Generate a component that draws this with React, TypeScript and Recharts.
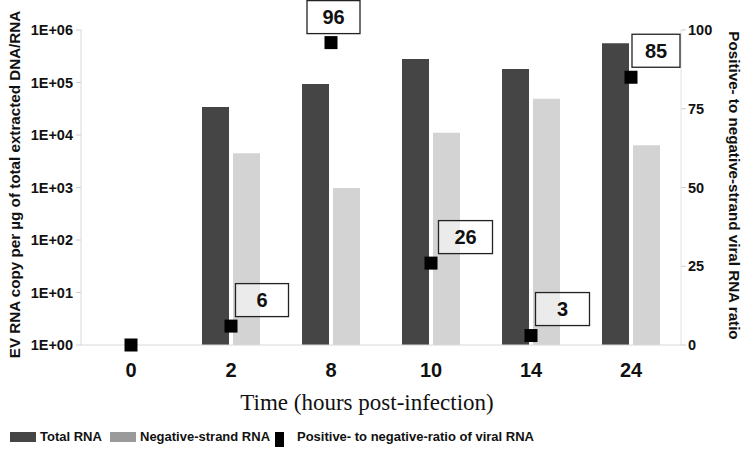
import React from "react";
import { ComposedChart, Bar, Line, XAxis, YAxis, Label } from "recharts";

const hours = ["0", "2", "8", "10", "14", "24"];
const totalRna = [null, 34000, 94000, 280000, 180000, 560000];
const negativeRna = [null, 4500, 980, 11000, 49000, 6400];
const ratio = [0, 6, 96, 26, 3, 85];
const ratioLabels = ["", "6", "96", "26", "3", "85"];

const logTicks = [1, 10, 100, 1000, 10000, 100000, 1000000];
const ratioTicks = [0, 25, 50, 75, 100];

// where each value box sits relative to its square: [dx, dy, width]
const boxPlacement: Array<[number, number, number]> = [
  [0, 0, 0],
  [31, -26, 53],
  [2.5, -25.5, 53],
  [34.5, -26, 54],
  [31.5, -26.5, 54],
  [25, -26.5, 48],
];

const chartData = hours.map((h, i) => ({
  hour: h,
  total: totalRna[i],
  negative: negativeRna[i],
  ratio: ratio[i],
}));

const ARIAL = "Arial, 'Liberation Sans', sans-serif";
const SERIF = "'Times New Roman', 'Liberation Serif', serif";
const DARK = "#454545";
const LIGHT = "#d3d3d3";

const fmtLog = (v: number) => "1E+" + String(Math.round(Math.log10(v))).padStart(2, "0");

function RatioDot(props: any) {
  const { cx, cy, index } = props;
  if (cx == null || cy == null) return null;
  const label = ratioLabels[index];
  const [dx, dy, w] = boxPlacement[index];
  const h = 33;
  return (
    <g key={"rd" + index}>
      <rect x={cx - 6.5} y={cy - 6.5} width={13} height={13} fill="#000" />
      {label && (
        <g>
          <rect
            x={cx + dx - w / 2}
            y={cy + dy - h / 2}
            width={w}
            height={h}
            fill="#fff"
            fillOpacity={0.55}
            stroke="#222"
            strokeWidth={1.3}
          />
          <text
            x={cx + dx}
            y={cy + dy + 7}
            textAnchor="middle"
            fontFamily={ARIAL}
            fontWeight="bold"
            fontSize={20}
            fill="#111"
          >
            {label}
          </text>
        </g>
      )}
    </g>
  );
}

const leftTitle = (props: any) => {
  const { viewBox } = props;
  const cx = 14;
  const cy = viewBox.y + viewBox.height / 2 - 3;
  return (
    <text
      x={cx}
      y={cy}
      transform={`rotate(-90 ${cx} ${cy})`}
      textAnchor="middle"
      dominantBaseline="central"
      fontFamily={ARIAL}
      fontWeight="bold"
      fontSize={15.2}
      fill="#111"
    >
      EV RNA copy per µg of total extracted DNA/RNA
    </text>
  );
};

const rightTitle = (props: any) => {
  const { viewBox } = props;
  const cx = 734;
  const cy = viewBox.y + viewBox.height / 2 - 2;
  return (
    <text
      x={cx}
      y={cy}
      transform={`rotate(90 ${cx} ${cy})`}
      textAnchor="middle"
      dominantBaseline="central"
      fontFamily={ARIAL}
      fontWeight="bold"
      fontSize={15.2}
      fill="#111"
    >
      Positive- to negative-strand viral RNA ratio
    </text>
  );
};

const legendText = {
  position: "absolute" as const,
  top: 429,
  fontFamily: ARIAL,
  fontWeight: "bold" as const,
  fontSize: 13,
  color: "#111",
  lineHeight: "16px",
};

export default function App() {
  return (
    <div style={{ position: "relative", width: 742, height: 460, background: "#fff" }}>
      <style>{"body{margin:0}"}</style>
      <ComposedChart
        width={742}
        height={460}
        data={chartData}
        margin={{ top: 30, right: 0, bottom: 0, left: 0 }}
        barSize={27}
        barGap={4}
      >
        <XAxis
          dataKey="hour"
          height={115}
          axisLine={{ stroke: "#d8d8d8" }}
          tickLine={false}
          tickMargin={12}
          tick={{ fill: "#111", fontFamily: ARIAL, fontWeight: "bold", fontSize: 20 }}
        >
          <Label
            value="Time (hours post-infection)"
            position="insideBottom"
            offset={50}
            dx={-14}
            style={{ fontFamily: SERIF, fontSize: 23, fill: "#111" }}
          />
        </XAxis>
        <YAxis
          yAxisId="left"
          scale="log"
          domain={[1, 1000000]}
          ticks={logTicks}
          allowDataOverflow
          tickFormatter={fmtLog}
          width={81}
          axisLine={{ stroke: "#d8d8d8" }}
          tickLine={{ stroke: "#cfcfcf" }}
          tickSize={5}
          tickMargin={3}
          tick={{ fill: "#111", fontFamily: ARIAL, fontWeight: "bold", fontSize: 14.5 }}
        >
          <Label content={leftTitle} />
        </YAxis>
        <YAxis
          yAxisId="right"
          orientation="right"
          domain={[0, 100]}
          ticks={ratioTicks}
          width={61}
          axisLine={{ stroke: "#e2e2e2" }}
          tickLine={{ stroke: "#cfcfcf" }}
          tickSize={5}
          tickMargin={2}
          tick={{ fill: "#111", fontFamily: ARIAL, fontWeight: "bold", fontSize: 14.5 }}
        >
          <Label content={rightTitle} />
        </YAxis>
        <Bar yAxisId="left" dataKey="total" fill={DARK} isAnimationActive={false} />
        <Bar yAxisId="left" dataKey="negative" fill={LIGHT} isAnimationActive={false} />
        <Line
          yAxisId="right"
          dataKey="ratio"
          stroke="none"
          strokeWidth={0}
          dot={RatioDot}
          activeDot={false}
          isAnimationActive={false}
        />
      </ComposedChart>

      <div style={{ position: "absolute", left: 10, top: 432, width: 26, height: 10, background: DARK }} />
      <div style={{ ...legendText, left: 40 }}>Total RNA</div>
      <div style={{ position: "absolute", left: 110, top: 432, width: 26, height: 10, background: "#9a9a9a" }} />
      <div style={{ ...legendText, left: 140 }}>Negative-strand RNA</div>
      <div style={{ position: "absolute", left: 275, top: 432, width: 9, height: 15, background: "#000" }} />
      <div style={{ ...legendText, left: 297 }}>Positive- to negative-ratio of viral RNA</div>
    </div>
  );
}
